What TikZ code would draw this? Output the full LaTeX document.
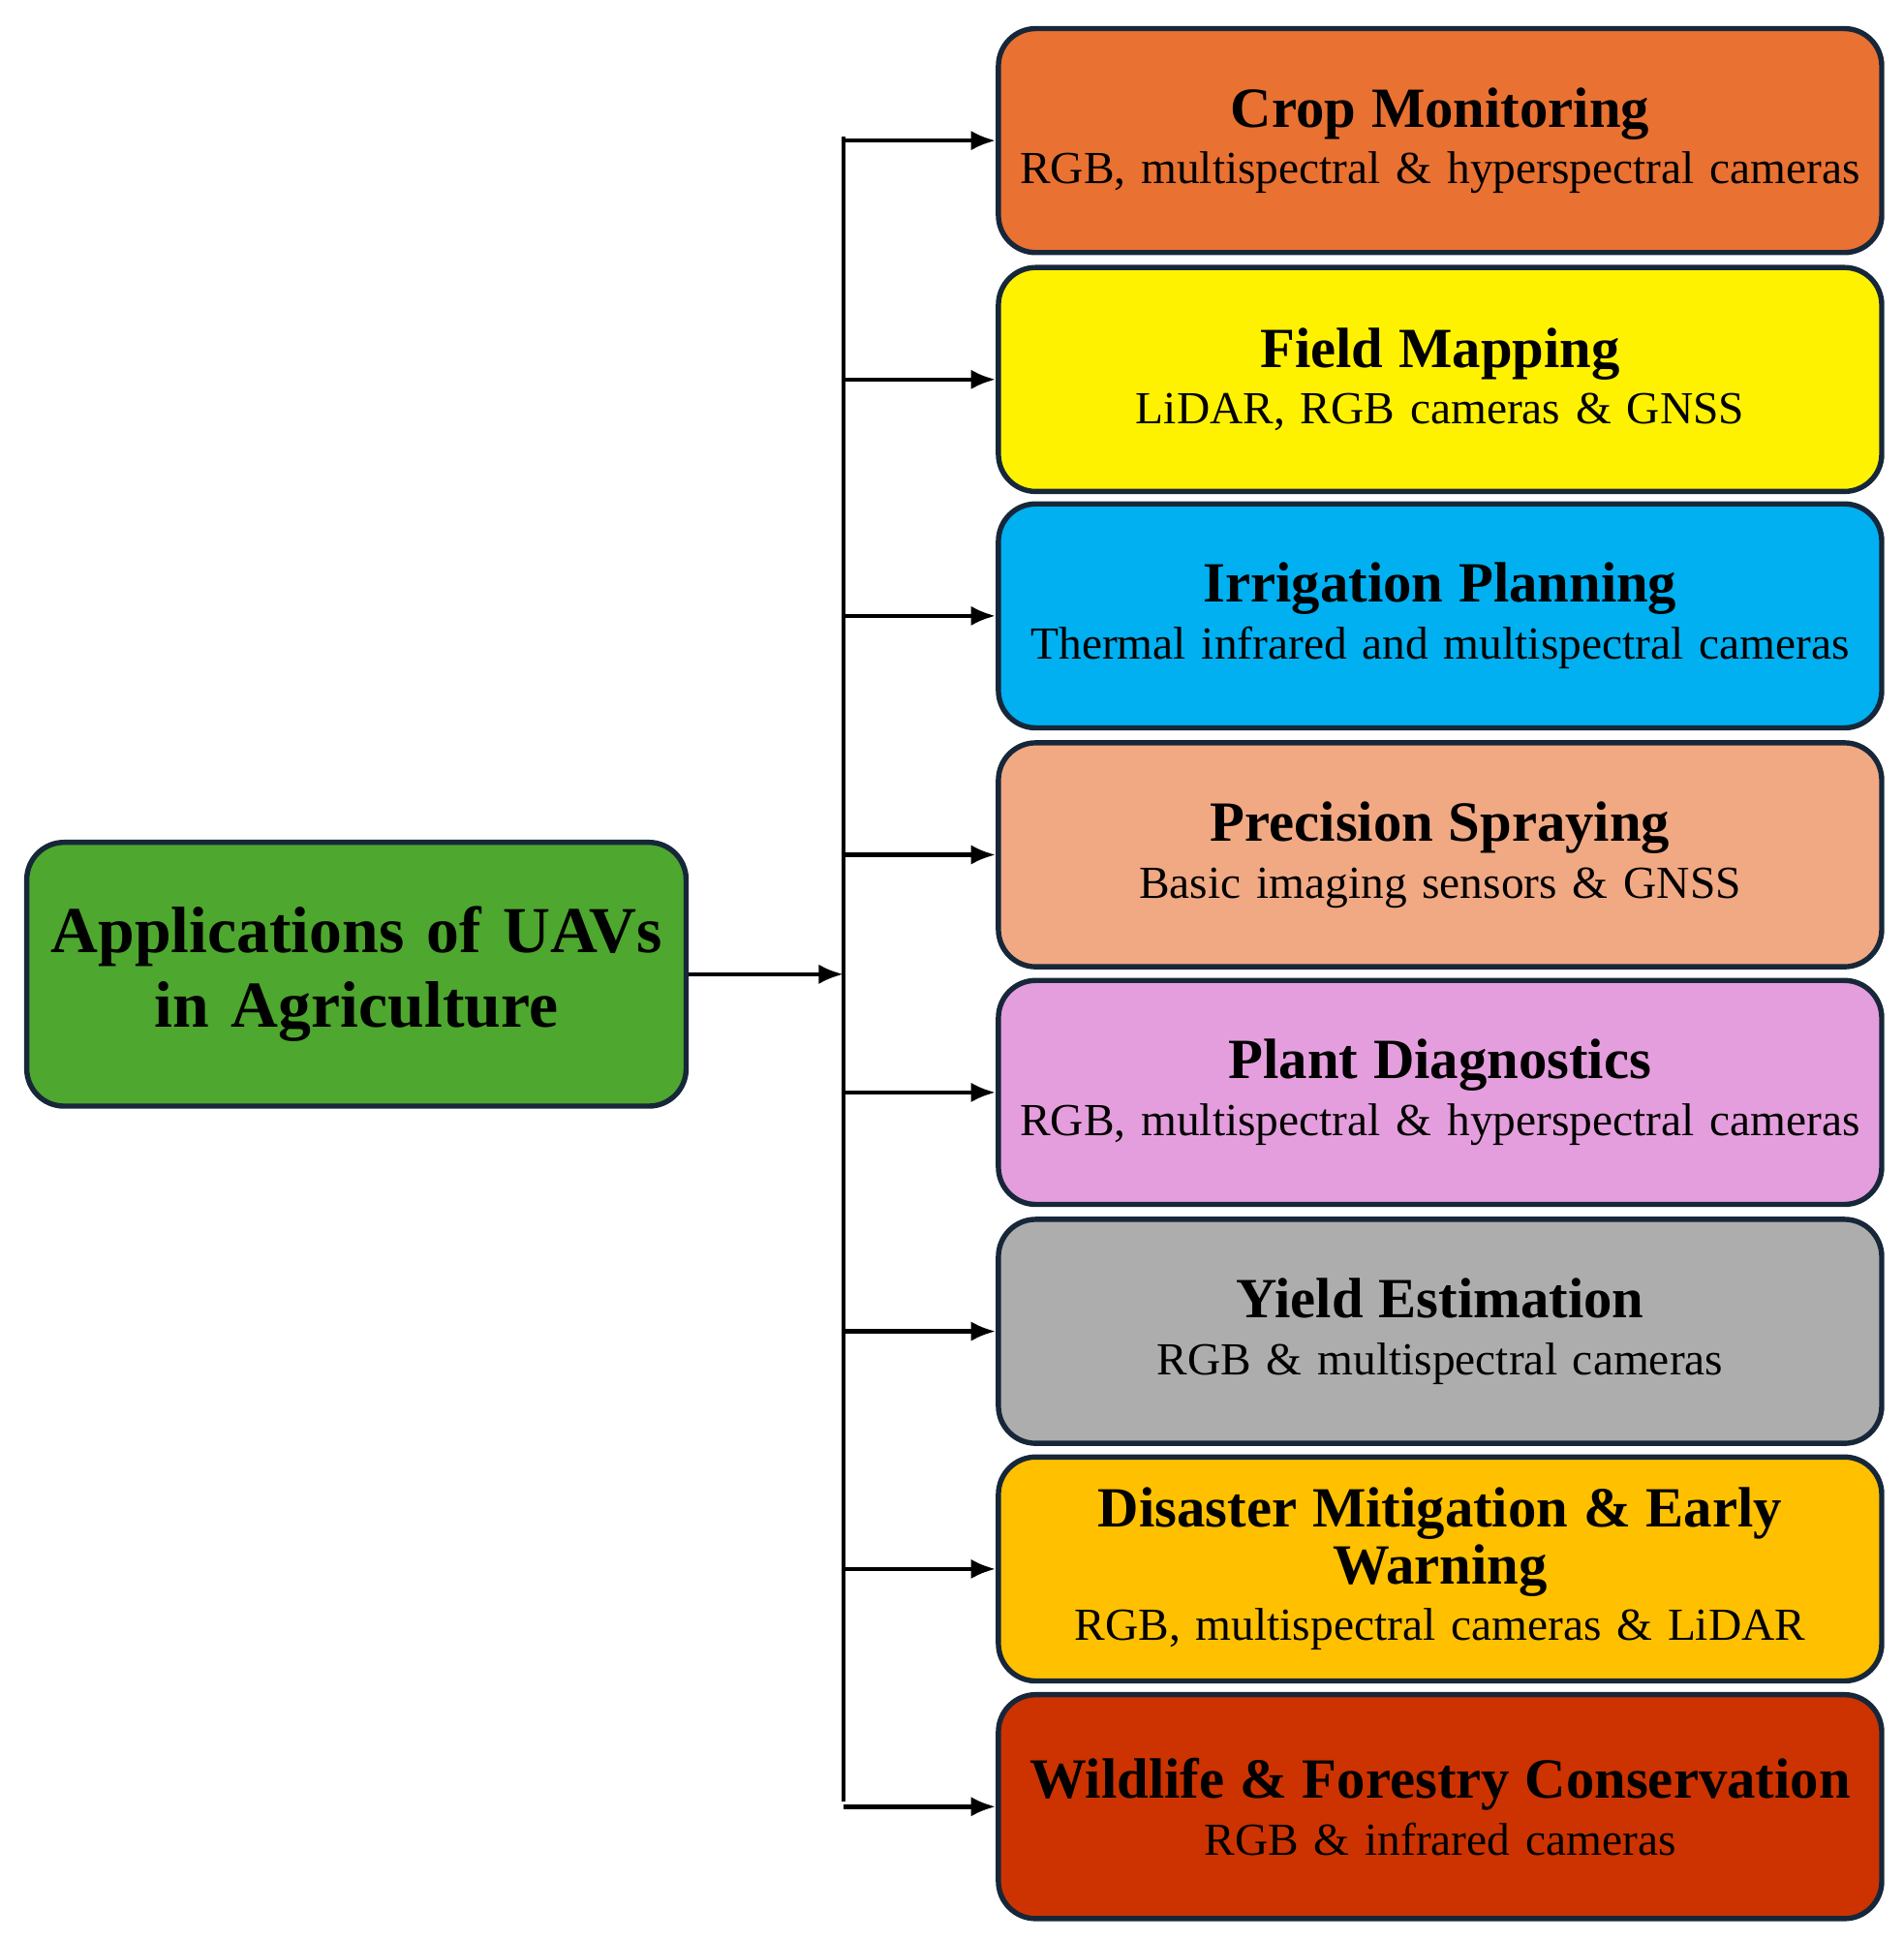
\documentclass[tikz,border=0pt]{standalone}
\usepackage{amsmath, amssymb, graphicx}
\usepackage{fontspec}
\setmainfont{Liberation Serif}
\usetikzlibrary{arrows.meta}
\definecolor{edgec}{HTML}{17273A}
\begin{document}
\begin{tikzpicture}
[app/.style={rectangle,rounded corners=0.3cm,draw=edgec,line width=1.2pt, text width=7cm, minimum height=1.8cm, align=center, inner sep=0.05cm, font=\fontsize{10.5}{13}\selectfont},
feed/.style={-{Latex[length=0.2cm,width=0.16cm]}, line width=1pt}]
\useasboundingbox (0,0) rectangle (15.3,-15.6);

\node[app,fill={rgb,255:red,78;green,167;blue,46},text width=5.2cm,minimum height=2.12cm,font=\fontsize{15}{17}\selectfont\bfseries] (uav) at (2.865,-7.83) {Applications of UAVs\\in Agriculture};

% application boxes
\node[app,fill={rgb,255:red,233;green,113;blue,50}] (crop) at (11.575,-1.13) {{\fontsize{13}{16}\selectfont\bfseries Crop Monitoring}\\RGB, multispectral \& hyperspectral cameras};
\node[app,fill=yellow] (field) at (11.575,-3.05) {{\fontsize{13}{16}\selectfont\bfseries Field Mapping}\\LiDAR, RGB cameras \& GNSS};
\node[app,fill={rgb,255:red,0;green,176;blue,240}] (irrig) at (11.575,-4.95) {{\fontsize{13}{16}\selectfont\bfseries Irrigation Planning}\\Thermal infrared and multispectral cameras};
\node[app,fill={rgb,255:red,241;green,169;blue,131}] (spray) at (11.575,-6.87) {{\fontsize{13}{16}\selectfont\bfseries Precision Spraying}\\Basic imaging sensors \& GNSS};
\node[app,fill={rgb,255:red,229;green,158;blue,221}] (diag) at (11.575,-8.78) {{\fontsize{13}{16}\selectfont\bfseries Plant Diagnostics}\\RGB, multispectral \& hyperspectral cameras};
\node[app,fill={rgb,255:red,173;green,173;blue,173}] (yield) at (11.575,-10.7) {{\fontsize{13}{16}\selectfont\bfseries Yield Estimation}\\RGB \& multispectral cameras};
\node[app,fill={rgb,255:red,255;green,192;blue,0}] (disast) at (11.575,-12.61) {{\fontsize{13}{16}\selectfont\bfseries Disaster Mitigation \& Early\\Warning}\\RGB, multispectral cameras \& LiDAR};
\node[app,fill={rgb,255:red,204;green,51;blue,0}] (wild) at (11.575,-14.52) {{\fontsize{13}{16}\selectfont\bfseries Wildlife \& Forestry Conservation}\\RGB \& infrared cameras};

% trunk
\coordinate (top) at (6.78,-1.1);
\coordinate (bot) at (6.78,-14.48);
\coordinate (mid) at (6.78,-7.83);
\draw[line width=1pt] (top) -- (bot);
\draw[feed] (uav) -- (mid);
\foreach \n in {crop,field,irrig,spray,diag,yield,disast,wild}
  \draw[feed] (6.78,0 |- \n.west) -- (\n.west);
\end{tikzpicture}
\end{document}
